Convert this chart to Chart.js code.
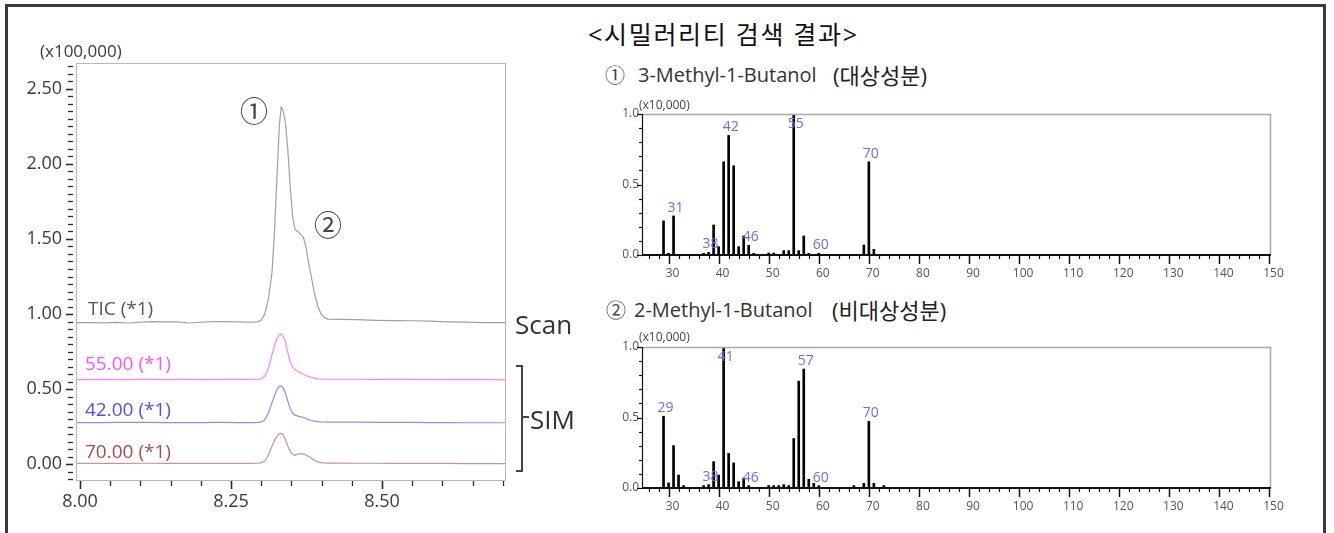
<!DOCTYPE html>
<html>
<head>
<meta charset="utf-8">
<script src="https://cdn.jsdelivr.net/npm/chart.js@4.4.1/dist/chart.umd.min.js"></script>
<style>
  html, body { margin: 0; padding: 0; }
  body { width: 1334px; height: 533px; background: #fff; position: relative; overflow: hidden;
         font-family: 'Open Sans', 'Noto Sans CJK KR', sans-serif; }
  .frame { position: absolute; left: 5px; top: 4px; width: 1315px; height: 620px;
           border: 3px solid #3a3a3a; border-bottom: none; }
  .t { position: absolute; white-space: nowrap; line-height: 1; transform: translateY(-50%); }
  .c { transform: translate(-50%, -50%); }
  .box { position: absolute; }
  canvas { position: absolute; display: block; }
</style>
</head>
<body>
<div class="frame"></div>

<!-- chromatogram -->
<canvas id="chrom" width="520" height="533" style="left:0;top:0"></canvas>
<div class="t" style="left:40px;top:50px;font-size:17px;color:#3a3a3a">(x100,000)</div>
<div class="t c" style="left:254px;top:110px;font-size:28px;color:#444;font-family:'Noto Sans CJK KR'">①</div>
<div class="t c" style="left:328px;top:224px;font-size:28px;color:#444;font-family:'Noto Sans CJK KR'">②</div>
<div class="t" style="left:88px;top:308px;font-size:19px;color:#555">TIC (*1)</div>
<div class="t" style="left:85px;top:363px;font-size:19px;color:#ff50ff">55.00 (*1)</div>
<div class="t" style="left:85px;top:409px;font-size:19px;color:#5050ee">42.00 (*1)</div>
<div class="t" style="left:85px;top:451px;font-size:19px;color:#a34e4e">70.00 (*1)</div>
<div class="t" style="left:515px;top:324px;font-size:26px;color:#333">Scan</div>
<div class="t" style="left:530px;top:419px;font-size:26px;color:#333">SIM</div>
<div class="box" style="left:516px;top:365px;width:5px;height:103px;border:2px solid #444;border-left:none"></div>
<div class="box" style="left:523px;top:416px;width:6px;height:2px;background:#444"></div>

<!-- similarity search results -->
<div class="t" style="left:588px;top:34px;font-size:25px;letter-spacing:1.7px;color:#111">&lt;시밀러리티 검색 결과&gt;</div>
<div class="t" style="left:605px;top:75px;font-size:20px;color:#444;font-family:'Noto Sans CJK KR'">①</div>
<div class="t" style="left:638px;top:75px;font-size:20px;color:#333">3-Methyl-1-Butanol</div>
<div class="t" style="left:833px;top:75px;font-size:22px;color:#222">(대상성분)</div>
<canvas id="ms1" width="720" height="200" style="left:580px;top:90px"></canvas>
<div class="t" style="left:639px;top:105px;font-size:12px;color:#444">(x10,000)</div>

<div class="t" style="left:606px;top:310px;font-size:20px;color:#444;font-family:'Noto Sans CJK KR'">②</div>
<div class="t" style="left:634px;top:310px;font-size:20px;color:#333">2-Methyl-1-Butanol</div>
<div class="t" style="left:832px;top:310px;font-size:22px;color:#222">(비대상성분)</div>
<canvas id="ms2" width="720" height="200" style="left:580px;top:323px"></canvas>
<div class="t" style="left:639px;top:337px;font-size:12px;color:#444">(x10,000)</div>

<script>
// Retention time (min) shared by all four traces
const chromTime = [
  7.994, 8.02, 8.04, 8.06, 8.08, 8.10, 8.12, 8.14, 8.16, 8.18, 8.20, 8.22, 8.24, 8.26, 8.28, 8.295,
  8.300, 8.306, 8.312, 8.318, 8.322, 8.326, 8.330, 8.333, 8.336, 8.340, 8.344, 8.348,
  8.352, 8.356, 8.362, 8.370, 8.374, 8.378, 8.383, 8.388, 8.394, 8.399, 8.404, 8.410,
  8.43, 8.46, 8.49, 8.52, 8.55, 8.58, 8.61, 8.64, 8.67, 8.705
];
// Intensities in units of 100,000 (traces carry their display offsets)
const ticSignal = [
  0.942, 0.943, 0.941, 0.944, 0.940, 0.946, 0.949, 0.947, 0.948, 0.940, 0.945, 0.949, 0.950, 0.947, 0.945, 0.948,
  0.960, 1.00, 1.10, 1.28, 1.55, 1.90, 2.25, 2.38, 2.36, 2.28, 2.10, 1.85,
  1.65, 1.565, 1.545, 1.51, 1.45, 1.35, 1.25, 1.14, 1.05, 1.00, 0.978, 0.966,
  0.964, 0.962, 0.958, 0.956, 0.955, 0.952, 0.948, 0.946, 0.943, 0.942
];
const sim55Signal = [
  0.563, 0.563, 0.564, 0.563, 0.563, 0.564, 0.564, 0.563, 0.564, 0.564, 0.563, 0.563, 0.564, 0.564, 0.564, 0.566,
  0.568, 0.585, 0.64, 0.73, 0.79, 0.835, 0.862, 0.867, 0.855, 0.815, 0.745, 0.68,
  0.645, 0.628, 0.615, 0.598, 0.590, 0.584, 0.577, 0.572, 0.568, 0.566, 0.565, 0.565,
  0.565, 0.565, 0.564, 0.564, 0.564, 0.563, 0.563, 0.562, 0.562, 0.561
];
const sim42Signal = [
  0.276, 0.276, 0.276, 0.277, 0.277, 0.278, 0.277, 0.276, 0.276, 0.276, 0.276, 0.277, 0.277, 0.276, 0.276, 0.277,
  0.279, 0.295, 0.34, 0.41, 0.455, 0.495, 0.518, 0.52, 0.508, 0.475, 0.42, 0.37,
  0.338, 0.326, 0.318, 0.310, 0.303, 0.296, 0.290, 0.286, 0.283, 0.281, 0.280, 0.279,
  0.279, 0.279, 0.278, 0.278, 0.277, 0.276, 0.276, 0.275, 0.275, 0.275
];
const sim70Signal = [
  0.004, 0.004, 0.004, 0.004, 0.004, 0.005, 0.005, 0.004, 0.004, 0.004, 0.004, 0.004, 0.004, 0.004, 0.004, 0.005,
  0.007, 0.02, 0.06, 0.12, 0.155, 0.185, 0.202, 0.204, 0.195, 0.165, 0.12, 0.085,
  0.065, 0.058, 0.068, 0.067, 0.060, 0.052, 0.04, 0.025, 0.014, 0.009, 0.007, 0.006,
  0.006, 0.005, 0.005, 0.004, 0.004, 0.004, 0.004, 0.003, 0.003, 0.003
];

// Mass spectrum of 3-Methyl-1-Butanol (abundance x10,000)
const ms1Mz    = [29, 30, 31, 37, 38, 39, 40, 41, 42, 43, 44, 45, 46, 47, 50, 51, 53, 54, 55, 56, 57, 58, 60, 69, 70, 71];
const ms1Abund = [0.242, 0.012, 0.277, 0.012, 0.019, 0.213, 0.059, 0.661, 0.848, 0.633, 0.059, 0.135, 0.069, 0.012,
                  0.014, 0.014, 0.031, 0.031, 1.0, 0.031, 0.135, 0.012, 0.012, 0.071, 0.661, 0.04];
const ms1Labeled = [31, 38, 42, 46, 55, 60, 70];

// Mass spectrum of 2-Methyl-1-Butanol (abundance x10,000)
const ms2Mz    = [29, 30, 31, 32, 33, 37, 38, 39, 40, 41, 42, 43, 44, 45, 46, 50, 51, 52, 53, 54, 55, 56, 57, 58, 59, 60, 67, 69, 70, 71, 73];
const ms2Abund = [0.509, 0.036, 0.301, 0.092, 0.017, 0.017, 0.024, 0.187, 0.092, 1.0, 0.246, 0.178, 0.045, 0.071, 0.017,
                  0.017, 0.017, 0.017, 0.024, 0.017, 0.351, 0.758, 0.844, 0.062, 0.033, 0.017, 0.017, 0.033, 0.472, 0.033, 0.017];
const ms2Labeled = [29, 38, 41, 46, 57, 60, 70];

const FONT = "'Open Sans', 'Noto Sans CJK KR', sans-serif";

// Gray plot box plus major/minor tick marks for the chromatogram
const chromFrame = {
  id: 'chromFrame',
  afterDraw(chart) {
    const { ctx, chartArea: a, scales: { x, y } } = chart;
    ctx.save();
    ctx.strokeStyle = '#b8b8b8';
    ctx.lineWidth = 1;
    ctx.strokeRect(a.left + 0.5, a.top + 0.5, a.right - a.left - 1, a.bottom - a.top - 1);
    ctx.strokeStyle = '#2b2b2b';
    for (let i = -2; i <= 53; i++) {
      const py = Math.round(y.getPixelForValue(i * 0.05)) + 0.5;
      const major = i % 10 === 0;
      ctx.lineWidth = major ? 1.6 : 1.3;
      ctx.beginPath();
      ctx.moveTo(a.left - (major ? 10 : 8), py);
      ctx.lineTo(a.left - 3, py);
      ctx.stroke();
    }
    for (let i = 0; i <= 14; i++) {
      const px = Math.round(x.getPixelForValue(8 + i * 0.05)) + 0.5;
      const major = i % 5 === 0;
      ctx.lineWidth = major ? 1.6 : 1.3;
      ctx.beginPath();
      ctx.moveTo(px, a.bottom);
      ctx.lineTo(px, a.bottom + (major ? 8 : 5));
      ctx.stroke();
    }
    ctx.restore();
  }
};

// Spectrum frame: gray top/right edges, black axes, ticks and m/z peak labels
const msFrame = {
  id: 'msFrame',
  afterDatasetsDraw(chart, args, opts) {
    const { ctx, chartArea: a, scales: { x, y } } = chart;
    ctx.save();
    ctx.strokeStyle = '#a8a8a8';
    ctx.lineWidth = 1.5;
    ctx.beginPath();
    ctx.moveTo(a.left, a.top + 0.5);
    ctx.lineTo(a.right - 0.5, a.top + 0.5);
    ctx.lineTo(a.right - 0.5, a.bottom);
    ctx.stroke();

    ctx.strokeStyle = '#111';
    ctx.lineWidth = 1.2;
    ctx.beginPath();
    ctx.moveTo(a.left + 0.5, a.top);
    ctx.lineTo(a.left + 0.5, a.bottom);
    ctx.stroke();
    ctx.lineWidth = 2;
    ctx.beginPath();
    ctx.moveTo(a.left, a.bottom);
    ctx.lineTo(a.right, a.bottom);
    ctx.stroke();

    ctx.lineWidth = 1.2;
    for (let i = 0; i <= 10; i++) {
      const py = Math.round(y.getPixelForValue(i / 10)) + 0.5;
      const major = i % 5 === 0;
      ctx.beginPath();
      ctx.moveTo(a.left - (major ? 5 : 3), py);
      ctx.lineTo(a.left, py);
      ctx.stroke();
    }
    for (let m = 26; m <= 150; m += 2) {
      const px = Math.round(x.getPixelForValue(m)) + 0.5;
      const major = m % 10 === 0;
      ctx.lineWidth = major ? 1.5 : 1.2;
      ctx.beginPath();
      ctx.moveTo(px, a.bottom);
      ctx.lineTo(px, a.bottom + (major ? 9 : 4));
      ctx.stroke();
    }

    const pts = chart.data.datasets[0].data;
    ctx.fillStyle = '#6b6bf6';
    ctx.font = '14px ' + FONT;
    ctx.textAlign = 'center';
    ctx.textBaseline = 'middle';
    (opts.labeled || []).forEach(m => {
      const p = pts.find(d => d.x === m);
      if (!p) return;
      const px = x.getPixelForValue(m) + 2;
      const py = Math.max(y.getPixelForValue(p.y) - 8, a.top + 10);
      ctx.fillText(String(m), px, py);
    });
    ctx.restore();
  }
};

const traceStyle = (color) => ({
  borderColor: color, borderWidth: 1.2, pointRadius: 0, tension: 0, fill: false
});

new Chart(document.getElementById('chrom'), {
  type: 'line',
  data: {
    datasets: [
      { label: 'TIC', data: chromTime.map((t, i) => ({ x: t, y: ticSignal[i] })), ...traceStyle('#a0a0a0') },
      { label: '55.00', data: chromTime.map((t, i) => ({ x: t, y: sim55Signal[i] })), ...traceStyle('#ff80ff') },
      { label: '42.00', data: chromTime.map((t, i) => ({ x: t, y: sim42Signal[i] })), ...traceStyle('#8c8cff') },
      { label: '70.00', data: chromTime.map((t, i) => ({ x: t, y: sim70Signal[i] })), ...traceStyle('#c99393') }
    ]
  },
  options: {
    responsive: false,
    animation: false,
    layout: { padding: { top: 63, right: 14, left: 0, bottom: 0 } },
    plugins: { legend: { display: false }, tooltip: { enabled: false } },
    scales: {
      x: {
        type: 'linear', min: 7.9934, max: 8.7053,
        grid: { display: false, drawTicks: false }, border: { display: false },
        afterFit(s) { s.height = 52; },
        ticks: { stepSize: 0.25, includeBounds: false, autoSkip: false, maxRotation: 0, padding: 10,
                 color: '#3a3a3a', font: { size: 18, family: FONT },
                 callback: v => Number(v).toFixed(2) }
      },
      y: {
        type: 'linear', min: -0.1133, max: 2.6733,
        grid: { display: false, drawTicks: false }, border: { display: false },
        afterFit(s) { s.width = 76; },
        ticks: { stepSize: 0.5, includeBounds: false, padding: 14,
                 color: '#3a3a3a', font: { size: 18, family: FONT },
                 callback: v => Number(v).toFixed(2) }
      }
    }
  },
  plugins: [chromFrame]
});

function spectrum(id, mz, abund, labeled) {
  new Chart(document.getElementById(id), {
    type: 'bar',
    data: {
      datasets: [{
        data: mz.map((m, i) => ({ x: m, y: abund[i] })),
        backgroundColor: '#000', borderWidth: 0, barThickness: 2
      }]
    },
    options: {
      responsive: false,
      animation: false,
      layout: { padding: { top: 24, right: 29, left: 0, bottom: 0 } },
      plugins: { legend: { display: false }, tooltip: { enabled: false }, msFrame: { labeled } },
      scales: {
        x: {
          type: 'linear', min: 24.7, max: 150.3, offset: false,
          grid: { display: false, drawTicks: false }, border: { display: false },
          afterFit(s) { s.height = 35; },
          ticks: { stepSize: 10, includeBounds: false, autoSkip: false, maxRotation: 0,
                   labelOffset: 4, padding: 11, color: '#555', font: { size: 12, family: FONT } }
        },
        y: {
          min: 0, max: 1,
          grid: { display: false, drawTicks: false }, border: { display: false },
          afterFit(s) { s.width = 62; },
          ticks: { stepSize: 0.5, padding: 3, color: '#555', font: { size: 12, family: FONT },
                   callback: v => Number(v).toFixed(1) }
        }
      }
    },
    plugins: [msFrame]
  });
}

spectrum('ms1', ms1Mz, ms1Abund, ms1Labeled);
spectrum('ms2', ms2Mz, ms2Abund, ms2Labeled);
</script>
</body>
</html>
